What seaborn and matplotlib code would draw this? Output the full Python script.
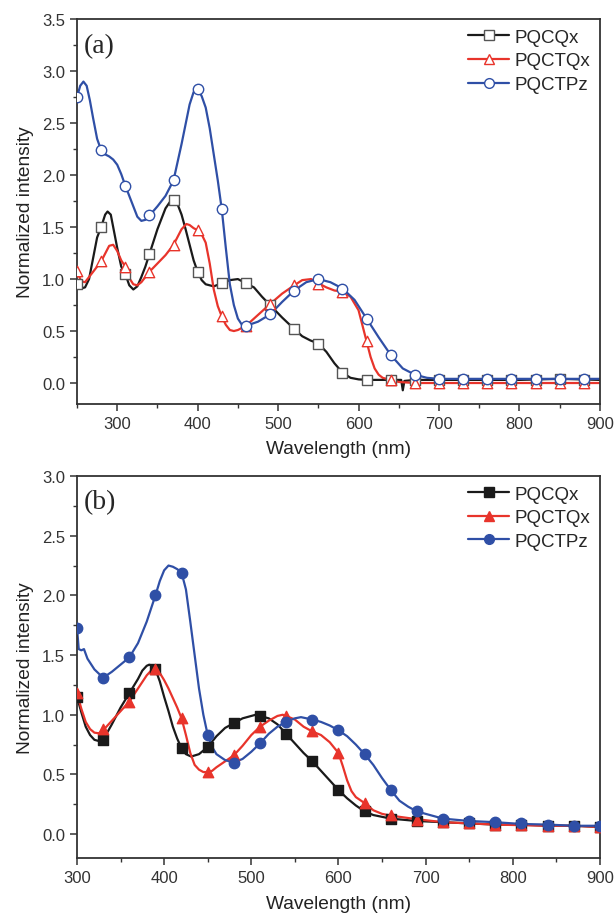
"""
plot.py
Normalized absorption spectra of PQCQx / PQCTQx / PQCTPz, panels (a) and (b).
"""

import pandas as pd
import matplotlib.pyplot as plt
from matplotlib.lines import Line2D
from matplotlib.ticker import MultipleLocator, FormatStrFormatter
import seaborn as sns

BLACK = "#1a1a1a"
RED   = "#e8342b"
BLUE  = "#2f4fa6"

NAMES = ["PQCQx", "PQCTQx", "PQCTPz"]

# ── panel (a): curves ────────────────────────────────────────────────────────
A_CQX_X = [250, 255, 260, 265, 270, 275, 280, 285, 288, 292, 295, 300, 305, 310, 315, 320,
           325, 330, 335, 340, 350, 360, 368, 370, 375, 380, 385, 390, 395, 400, 405, 410,
           420, 430, 440, 450, 460, 470, 480, 490, 505, 520, 530, 540, 550, 560, 570, 580,
           590, 600, 610, 620, 640, 653, 655, 657, 670, 700, 750, 800, 850, 900]
A_CQX_Y = [0.95, 0.91, 0.92, 1.00, 1.20, 1.40, 1.50, 1.62, 1.65, 1.62, 1.50, 1.30, 1.12, 1.05,
           0.94, 0.90, 0.93, 1.02, 1.12, 1.24, 1.48, 1.68, 1.77, 1.76, 1.72, 1.62, 1.48, 1.33,
           1.18, 1.07, 0.99, 0.95, 0.93, 0.96, 0.99, 1.00, 0.96, 0.92, 0.83, 0.75, 0.63, 0.52,
           0.45, 0.41, 0.38, 0.30, 0.19, 0.10, 0.05, 0.035, 0.03, 0.03, 0.03, 0.03, -0.07, 0.02,
           0.03, 0.03, 0.03, 0.03, 0.04, 0.03]

A_CTQX_X = [250, 255, 260, 270, 280, 290, 295, 300, 305, 310, 315, 320, 325, 330, 340, 350,
            360, 370, 380, 386, 390, 395, 400, 405, 410, 415, 420, 425, 430, 435, 440, 445,
            450, 460, 470, 480, 490, 505, 520, 530, 541, 550, 560, 570, 580, 590, 600, 605,
            610, 615, 620, 625, 630, 640, 650, 670, 700, 800, 900]
A_CTQX_Y = [1.08, 0.98, 0.97, 1.07, 1.17, 1.32, 1.33, 1.27, 1.18, 1.12, 1.01, 0.95, 0.94, 0.97,
            1.07, 1.15, 1.23, 1.33, 1.48, 1.53, 1.52, 1.49, 1.47, 1.43, 1.35, 1.15, 0.90, 0.74,
            0.64, 0.56, 0.51, 0.50, 0.51, 0.55, 0.62, 0.69, 0.76, 0.86, 0.94, 0.99, 1.00, 0.96,
            0.92, 0.89, 0.88, 0.83, 0.70, 0.55, 0.40, 0.25, 0.14, 0.08, 0.05, 0.03, 0.01, 0.0,
            0.0, 0.0, 0.0]

A_CTPZ_X = [250, 254, 258, 262, 266, 270, 275, 280, 285, 290, 295, 300, 305, 310, 315, 320,
            325, 330, 335, 340, 350, 360, 370, 380, 390, 395, 400, 405, 410, 415, 420, 425,
            430, 435, 440, 445, 450, 455, 460, 475, 490, 505, 520, 535, 550, 565, 580, 595,
            610, 625, 640, 655, 670, 685, 700, 750, 800, 850, 900]
A_CTPZ_Y = [2.75, 2.86, 2.90, 2.86, 2.72, 2.55, 2.35, 2.24, 2.20, 2.18, 2.15, 2.10, 2.01, 1.90,
            1.80, 1.70, 1.60, 1.56, 1.57, 1.61, 1.70, 1.80, 1.95, 2.30, 2.68, 2.80, 2.83, 2.76,
            2.65, 2.45, 2.20, 1.95, 1.67, 1.30, 0.95, 0.75, 0.62, 0.56, 0.55, 0.59, 0.66, 0.78,
            0.89, 0.97, 1.00, 0.97, 0.91, 0.80, 0.62, 0.44, 0.27, 0.14, 0.08, 0.05, 0.04, 0.04,
            0.04, 0.04, 0.04]

# ── panel (a): symbols every 30 nm ───────────────────────────────────────────
A_MARK_X  = [250, 280, 310, 340, 370, 400, 430, 460, 490, 520, 550,
             580, 610, 640, 670, 700, 730, 760, 790, 820, 850, 880]
A_CQX_M   = [0.95, 1.50, 1.05, 1.24, 1.76, 1.07, 0.96, 0.96, 0.75, 0.52, 0.38,
             0.10, 0.03, 0.03, 0.03, 0.03, 0.03, 0.03, 0.03, 0.03, 0.04, 0.03]
A_CTQX_M  = [1.08, 1.17, 1.12, 1.07, 1.33, 1.47, 0.64, 0.55, 0.76, 0.94, 0.95,
             0.88, 0.40, 0.03, 0.0, 0.0, 0.0, 0.0, 0.0, 0.0, 0.0, 0.0]
A_CTPZ_M  = [2.75, 2.24, 1.90, 1.62, 1.95, 2.83, 1.67, 0.55, 0.66, 0.89, 1.00,
             0.90, 0.62, 0.27, 0.08, 0.04, 0.04, 0.04, 0.04, 0.04, 0.04, 0.04]

# ── panel (b): curves ────────────────────────────────────────────────────────
B_CQX_X = [300, 305, 310, 315, 320, 325, 330, 340, 350, 360, 370, 375, 380, 383, 386, 390,
           395, 400, 405, 410, 415, 420, 425, 431, 440, 450, 460, 470, 480, 490, 500, 505,
           510, 520, 530, 540, 550, 560, 570, 580, 590, 600, 610, 620, 630, 640, 650, 660,
           690, 720, 750, 780, 810, 840, 870, 900]
B_CQX_Y = [1.15, 1.02, 0.90, 0.83, 0.79, 0.78, 0.79, 0.92, 1.06, 1.18, 1.30, 1.37, 1.41, 1.42,
           1.41, 1.38, 1.28, 1.15, 1.03, 0.90, 0.80, 0.72, 0.67, 0.65, 0.67, 0.73, 0.82, 0.89,
           0.93, 0.97, 0.99, 1.00, 0.99, 0.97, 0.92, 0.84, 0.76, 0.68, 0.61, 0.53, 0.45, 0.37,
           0.30, 0.24, 0.19, 0.16, 0.145, 0.13, 0.11, 0.10, 0.09, 0.08, 0.08, 0.07, 0.07, 0.06]

B_CTQX_X = [300, 305, 310, 315, 320, 325, 330, 340, 350, 360, 370, 380, 385, 390, 395, 400,
            405, 410, 415, 420, 425, 430, 435, 440, 445, 450, 455, 460, 470, 480, 490, 500,
            510, 520, 530, 536, 540, 550, 560, 570, 580, 590, 600, 605, 610, 615, 620, 630,
            640, 650, 660, 690, 720, 750, 780, 810, 840, 870, 900]
B_CTQX_Y = [1.18, 1.05, 0.94, 0.88, 0.85, 0.845, 0.87, 0.95, 1.03, 1.11, 1.22, 1.33, 1.37, 1.38,
            1.35, 1.29, 1.22, 1.14, 1.06, 0.97, 0.83, 0.68, 0.58, 0.54, 0.52, 0.52, 0.53, 0.56,
            0.61, 0.66, 0.74, 0.83, 0.90, 0.95, 0.99, 1.00, 0.99, 0.96, 0.90, 0.86, 0.83, 0.77,
            0.68, 0.57, 0.45, 0.36, 0.31, 0.26, 0.20, 0.17, 0.155, 0.125, 0.10, 0.09, 0.08, 0.075,
            0.07, 0.07, 0.06]

B_CTPZ_X = [300, 302, 305, 308, 312, 320, 330, 340, 350, 360, 370, 380, 390, 395, 400, 405,
            410, 415, 420, 425, 430, 435, 440, 445, 450, 455, 460, 470, 480, 490, 500, 510,
            520, 530, 540, 550, 557, 570, 580, 590, 600, 610, 620, 630, 640, 650, 660, 670,
            680, 690, 720, 750, 780, 810, 840, 870, 900]
B_CTPZ_Y = [1.73, 1.55, 1.54, 1.55, 1.47, 1.38, 1.31, 1.36, 1.42, 1.48, 1.60, 1.78, 2.00, 2.12,
            2.21, 2.25, 2.24, 2.22, 2.19, 2.05, 1.78, 1.50, 1.22, 1.00, 0.83, 0.73, 0.67, 0.62,
            0.60, 0.63, 0.69, 0.76, 0.84, 0.90, 0.94, 0.97, 0.98, 0.96, 0.94, 0.91, 0.87, 0.82,
            0.75, 0.67, 0.58, 0.47, 0.37, 0.28, 0.23, 0.19, 0.13, 0.11, 0.10, 0.085, 0.08, 0.07,
            0.07]

# ── panel (b): symbols every 30 nm ───────────────────────────────────────────
B_MARK_X  = [300, 330, 360, 390, 420, 450, 480, 510, 540, 570, 600,
             630, 660, 690, 720, 750, 780, 810, 840, 870, 900]
B_CQX_M   = [1.15, 0.79, 1.18, 1.38, 0.72, 0.73, 0.93, 0.99, 0.84, 0.61, 0.37,
             0.19, 0.13, 0.11, 0.10, 0.09, 0.08, 0.08, 0.07, 0.07, 0.06]
B_CTQX_M  = [1.18, 0.88, 1.11, 1.38, 0.97, 0.52, 0.66, 0.90, 0.99, 0.86, 0.68,
             0.26, 0.16, 0.12, 0.10, 0.09, 0.08, 0.08, 0.07, 0.07, 0.06]
B_CTPZ_M  = [1.73, 1.31, 1.48, 2.00, 2.19, 0.83, 0.60, 0.76, 0.94, 0.96, 0.87,
             0.67, 0.37, 0.19, 0.13, 0.11, 0.10, 0.09, 0.08, 0.07, 0.07]


def long_frame(xs, ys):
    parts = [pd.DataFrame({"wl": x, "val": y, "name": n}) for n, x, y in zip(NAMES, xs, ys)]
    return pd.concat(parts, ignore_index=True)


sns.set_style("ticks")
plt.rcParams["font.family"] = ["Liberation Sans", "DejaVu Sans"]

palette = dict(zip(NAMES, [BLACK, RED, BLUE]))
markers = dict(zip(NAMES, ["s", "^", "o"]))


def draw_panel(ax, curves, marks, filled, tag, xlim, ylim):
    curve_df = long_frame(*curves)
    mark_df = long_frame(*marks)
    sns.lineplot(data=curve_df, x="wl", y="val", hue="name", palette=palette,
                 estimator=None, sort=False, linewidth=1.6, legend=False, ax=ax)

    handles = []
    for name in NAMES:
        col = palette[name]
        edge = "#555555" if (name == "PQCQx" and not filled) else col
        face = col if filled else "white"
        sub = mark_df[mark_df["name"] == name]
        sns.scatterplot(data=sub, x="wl", y="val", marker=markers[name], s=56,
                        color=face, edgecolor=edge, linewidth=1.0, legend=False,
                        zorder=3, ax=ax)
        handles.append(Line2D([], [], color=col, lw=1.6, marker=markers[name],
                              markersize=7, markerfacecolor=face, markeredgecolor=edge,
                              markeredgewidth=1.0, label=name))

    ax.legend(handles=handles, loc="upper right", frameon=False, fontsize=13.5,
              handlelength=2.2, handletextpad=0.3, labelspacing=0.35,
              borderaxespad=0.15, borderpad=0.35)

    ax.text(0.013, 0.965, tag, transform=ax.transAxes, ha="left", va="top",
            fontsize=20, family=["Liberation Serif", "DejaVu Serif"])

    ax.set_xlim(*xlim)
    ax.set_ylim(*ylim)
    ax.xaxis.set_major_locator(MultipleLocator(100))
    ax.xaxis.set_minor_locator(MultipleLocator(50))
    ax.yaxis.set_major_locator(MultipleLocator(0.5))
    ax.yaxis.set_minor_locator(MultipleLocator(0.25))
    ax.yaxis.set_major_formatter(FormatStrFormatter("%.1f"))
    ax.set_xlabel("Wavelength (nm)", fontsize=13.8, color="#222222", labelpad=7)
    ax.set_ylabel("Normalized intensity", fontsize=13.8, color="#222222", labelpad=6)
    ax.tick_params(which="major", direction="out", length=5, width=1.1,
                   labelsize=12, colors="#333333", top=False, right=False)
    ax.tick_params(which="minor", direction="out", length=3, width=1.0,
                   colors="#333333", top=False, right=False)
    for sp in ax.spines.values():
        sp.set_linewidth(1.3)
        sp.set_color("#333333")
        sp.set_visible(True)


fig = plt.figure(figsize=(6.14, 9.2), dpi=100)
ax_a = fig.add_axes([0.1254, 0.560, 0.8516, 0.418])
ax_b = fig.add_axes([0.1254, 0.0663, 0.8516, 0.4152])

draw_panel(ax_a,
           ([A_CQX_X, A_CTQX_X, A_CTPZ_X], [A_CQX_Y, A_CTQX_Y, A_CTPZ_Y]),
           ([A_MARK_X] * 3, [A_CQX_M, A_CTQX_M, A_CTPZ_M]),
           filled=False, tag="(a)", xlim=(250, 900), ylim=(-0.2, 3.5))

draw_panel(ax_b,
           ([B_CQX_X, B_CTQX_X, B_CTPZ_X], [B_CQX_Y, B_CTQX_Y, B_CTPZ_Y]),
           ([B_MARK_X] * 3, [B_CQX_M, B_CTQX_M, B_CTPZ_M]),
           filled=True, tag="(b)", xlim=(300, 900), ylim=(-0.2, 3.0))

fig.savefig("out.png", dpi=100)
plt.close(fig)
